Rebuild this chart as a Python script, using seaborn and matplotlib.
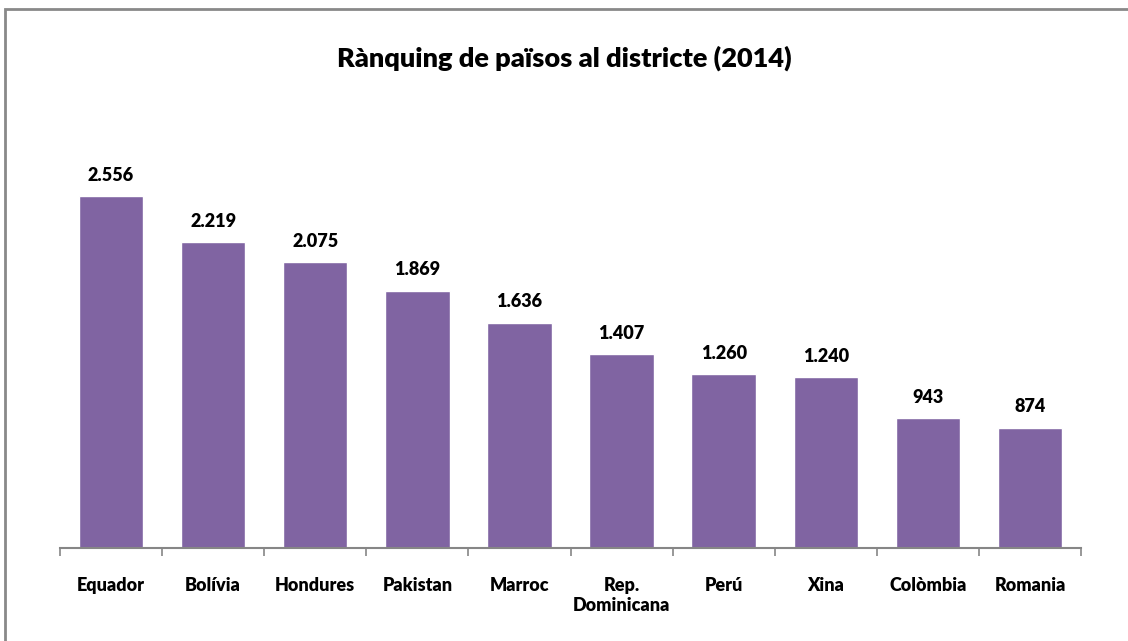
import seaborn as sns
import pandas as pd
import matplotlib.pyplot as plt
from matplotlib.patches import Rectangle

# Dades del gràfic
paisos = ['Equador', 'Bolívia', 'Hondures', 'Pakistan', 'Marroc',
          'Rep.\nDominicana', 'Perú', 'Xina', 'Colòmbia', 'Romania']
persones = [2556, 2219, 2075, 1869, 1636, 1407, 1260, 1240, 943, 874]
etiquetes = ['2.556', '2.219', '2.075', '1.869', '1.636',
             '1.407', '1.260', '1.240', '943', '874']

df = pd.DataFrame({'pais': paisos, 'persones': persones})

sns.set_style('white')
plt.rcParams['font.family'] = ['Lato', 'DejaVu Sans']
plt.rcParams['text.color'] = 'black'
plt.rcParams['xtick.color'] = 'black'

fig = plt.figure(figsize=(11.28, 6.41), dpi=100)
W, H = 1128, 641
ax = fig.add_axes([60 / W, 1 - 548 / H, (1081 - 60) / W, (548 - 150) / H])

sns.barplot(data=df, x='pais', y='persones', color='#8064A2', saturation=1,
            width=0.63, ax=ax)

ax.set_ylim(0, 398 / 0.1377)
ax.set_xlim(-0.5, len(paisos) - 0.5)

# Etiquetes de valor
for i, (v, t) in enumerate(zip(persones, etiquetes)):
    ax.annotate(t, (i, v), xytext=(0, 9), textcoords='offset points',
                ha='center', va='bottom', fontsize=13, fontweight='heavy',
                color='black')

# Eixos
for s in ['top', 'right', 'left']:
    ax.spines[s].set_visible(False)
ax.spines['bottom'].set_color('#868686')
ax.spines['bottom'].set_linewidth(1.5)
ax.set_yticks([])
ax.set_xticks([i - 0.5 for i in range(len(paisos) + 1)], minor=False)
ax.set_xticklabels([])
ax.tick_params(axis='x', which='major', bottom=True, direction='out',
               length=6, color='#868686', width=1.2)
ax.set_xticks(range(len(paisos)), minor=True)
ax.set_xticklabels(paisos, minor=True, fontsize=13, fontweight='heavy',
                   color='black')
ax.tick_params(axis='x', which='minor', bottom=True, length=0, pad=21)
ax.set_xlabel('')
ax.set_ylabel('')

fig.suptitle('Rànquing de països al districte (2014)', y=1 - 58 / H,
             fontsize=19.5, fontweight='heavy', va='center', color='black')

# Marc del gràfic
fig.patches.append(Rectangle((5 / W, -0.1), 1.2, 1 - 9 / H + 0.1,
                             transform=fig.transFigure, fill=False,
                             edgecolor='#898989', linewidth=2))

fig.savefig('out.png', dpi=100)
